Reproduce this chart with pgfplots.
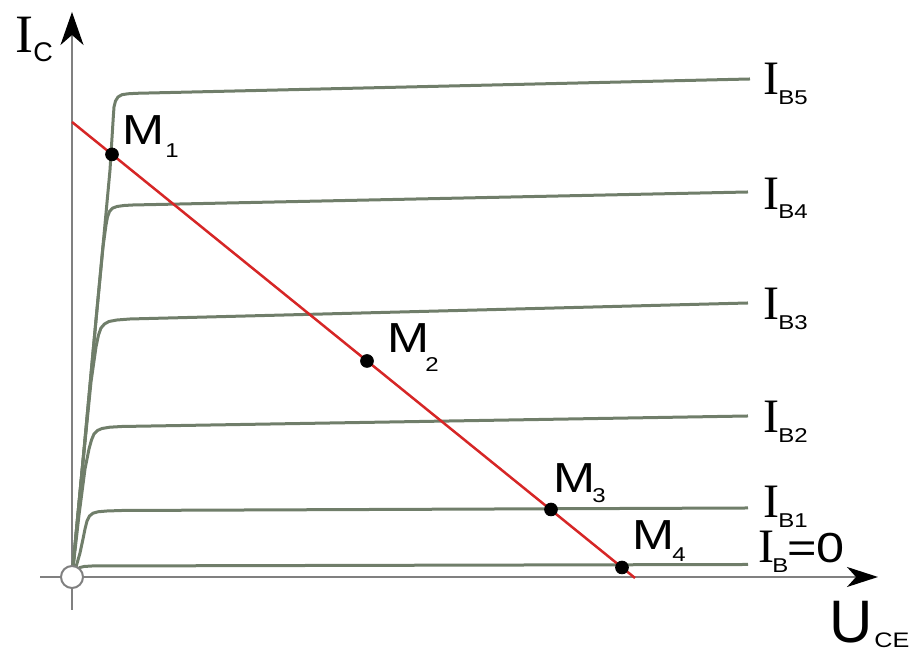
\documentclass[border=0pt]{standalone}
\usepackage{fontspec}
\setmainfont{Liberation Sans}
\newfontfamily\serifI{Liberation Serif}
\newfontfamily\wide[FakeStretch=1.2]{Liberation Sans}
\usepackage{pgfplots}
\pgfplotsset{compat=1.18}
\usetikzlibrary{arrows.meta}
\definecolor{curve}{RGB}{112,126,106}
\definecolor{axgray}{RGB}{128,128,128}
\definecolor{loadred}{RGB}{214,38,38}
\newcommand{\Ifont}{\serifI\fontsize{24}{24}\selectfont}
\newcommand{\Mfont}{\wide\fontsize{21}{21}\selectfont}
\newcommand{\Sfont}{\wide\fontsize{10}{10}\selectfont}
\begin{document}
\begin{tikzpicture}
\begin{axis}[scale only axis, width=459pt, height=328.5pt,
  xmin=-72, xmax=846, ymin=-80, ymax=577, hide axis, clip=false]
\coordinate (bl) at (rel axis cs:0,0);
\coordinate (tr) at (rel axis cs:1,1);
% axes
\draw[axgray, line width=1pt, -{Stealth[black, length=15.5pt, width=10pt, inset=4.5pt]}] (axis cs:-32,0) -- (axis cs:806,0);
\draw[axgray, line width=1pt, -{Stealth[black, length=16.5pt, width=11.5pt, inset=5pt]}] (axis cs:0,-33) -- (axis cs:0,565);
% characteristic curves
\addplot[curve, line width=1.5pt, line join=round] coordinates {
 (0,0) (12,127) (24,257) (32,342) (38,407) (41.3,460) (42,470) (43.5,476) (46,480) (50,482.3) (56,483.2) (64.7,483.7) (678,498)};
\addplot[curve, line width=1.5pt, line join=round] coordinates {
 (0,0) (12,127) (24,257) (31,330) (34,352) (35.5,360) (37.5,365.5) (40.5,368.8) (45,370.5) (52,371.5) (61,372) (676,385)};
\addplot[curve, line width=1.5pt, line join=round] coordinates {
 (0,0) (10,105) (19,195) (24,230) (26.5,242) (29,249) (32.5,253) (37,255.5) (45,257) (58,258) (676,274)};
\addplot[curve, line width=1.5pt, line join=round] coordinates {
 (0,0) (7,62) (13,108) (17,128) (19.5,137) (22,143) (25.5,146.5) (30,148.5) (38,149.8) (50,150.5) (676,161)};
\addplot[curve, line width=1.5pt, line join=round] coordinates {
 (0,0) (4,10) (8,24) (11,38) (13,48) (15,56) (17.5,61) (21,63.8) (26,65.2) (35,66) (50,66.5) (676,69)};
\addplot[curve, line width=1.5pt, line join=round] coordinates {
 (0,0) (2.5,4.5) (5,7.5) (8,9.5) (12,10.5) (20,11) (676,12.5)};
% load line
\addplot[loadred, line width=1.25pt] coordinates {(0,455) (563,-1)};
% operating points
\addplot[only marks, mark=*, mark size=3.2pt, black] coordinates {(40,422.6) (295,216) (479,67.5) (550,9.5)};
% origin circle
\addplot[only marks, mark=*, mark size=5.5pt, mark options={fill=white, draw=axgray, line width=1pt}] coordinates {(0,0)};
% axis labels
\node[anchor=base west, inner sep=0] at (axis cs:-57,524) {\serifI\fontsize{27}{27}\selectfont I};
\node[anchor=base west, inner sep=0] at (axis cs:-39,515) {\fontsize{13.5}{13.5}\selectfont C};
\node[anchor=base west, inner sep=0] at (axis cs:757,-66) {\fontsize{30}{30}\selectfont U};
\node[anchor=base west, inner sep=0] at (axis cs:802,-71) {\wide\fontsize{10.5}{10.5}\selectfont CE};
% curve labels
\node[anchor=base west, inner sep=0] at (axis cs:691,482) {\Ifont I};
\node[anchor=base west, inner sep=0] at (axis cs:706,472) {\Sfont B5};
\node[anchor=base west, inner sep=0] at (axis cs:691,367) {\Ifont I};
\node[anchor=base west, inner sep=0] at (axis cs:706,358) {\Sfont B4};
\node[anchor=base west, inner sep=0] at (axis cs:691,257) {\Ifont I};
\node[anchor=base west, inner sep=0] at (axis cs:706,247) {\Sfont B3};
\node[anchor=base west, inner sep=0] at (axis cs:691,144) {\Ifont I};
\node[anchor=base west, inner sep=0] at (axis cs:706,134) {\Sfont B2};
\node[anchor=base west, inner sep=0] at (axis cs:691,59) {\Ifont I};
\node[anchor=base west, inner sep=0] at (axis cs:706,49) {\Sfont B1};
\node[anchor=base west, inner sep=0] at (axis cs:686,14) {\Ifont I};
\node[anchor=base west, inner sep=0] at (axis cs:700,4) {\Sfont B};
\node[anchor=base west, inner sep=0] at (axis cs:715,14) {\Mfont =0};
% point labels
\node[anchor=base west, inner sep=0] at (axis cs:50,432) {\Mfont M};
\node[anchor=base west, inner sep=0] at (axis cs:93,419) {\Sfont 1};
\node[anchor=base west, inner sep=0] at (axis cs:315,224) {\Mfont M};
\node[anchor=base west, inner sep=0] at (axis cs:353,205) {\Sfont 2};
\node[anchor=base west, inner sep=0] at (axis cs:481,84) {\Mfont M};
\node[anchor=base west, inner sep=0] at (axis cs:520,74) {\Sfont 3};
\node[anchor=base west, inner sep=0] at (axis cs:560,27) {\Mfont M};
\node[anchor=base west, inner sep=0] at (axis cs:600,15) {\Sfont 4};
\end{axis}
\pgfresetboundingbox
\path (bl) rectangle (tr);
\end{tikzpicture}
\end{document}
